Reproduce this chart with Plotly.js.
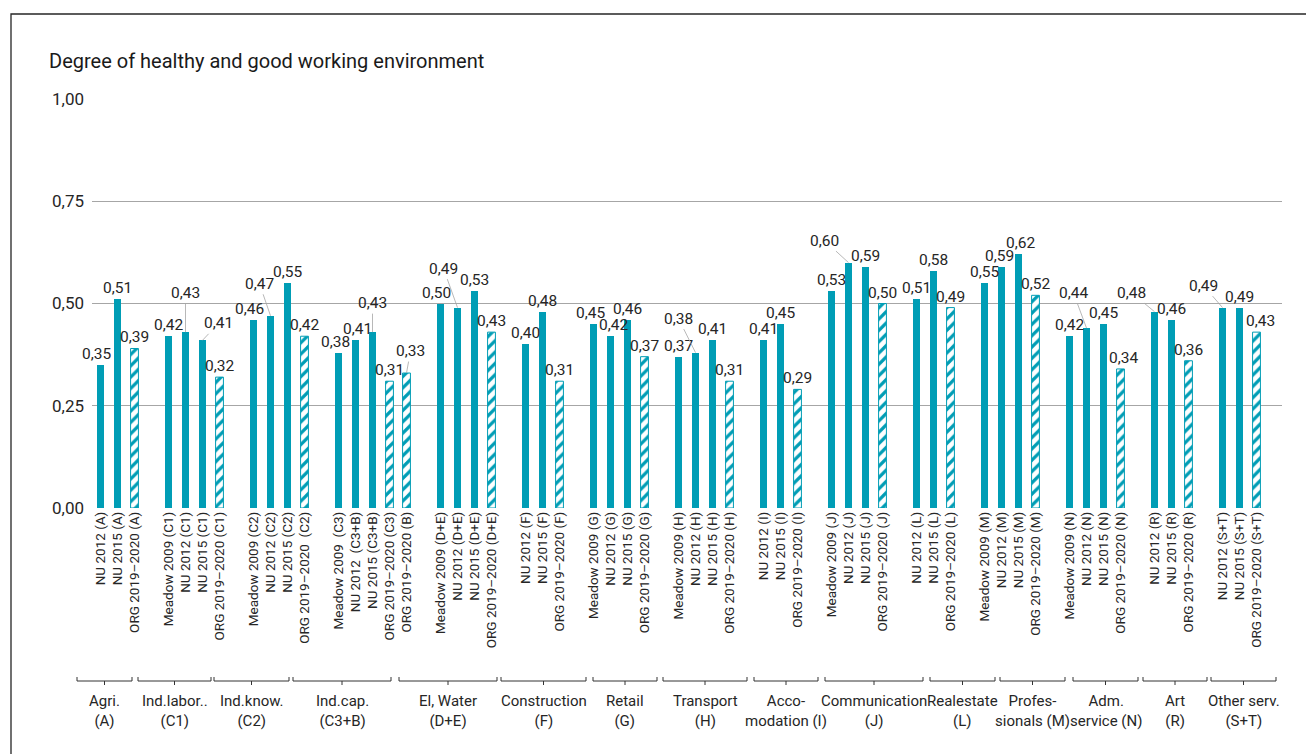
<!DOCTYPE html>
<html>
<head>
<meta charset="utf-8">
<script src="https://cdn.plot.ly/plotly-3.0.1.min.js"></script>
<style>html,body{margin:0;padding:0;background:#fff;}#chart{width:1306px;height:754px;}</style>
</head>
<body>
<div id="chart"></div>
<script>
// ---- Data ----
const groupLabels = ['Agri.<br>(A)', 'Ind.labor..<br>(C1)', 'Ind.know.<br>(C2)', 'Ind.cap.<br>(C3+B)',
  'El, Water<br>(D+E)', 'Construction<br>(F)', 'Retail<br>(G)', 'Transport<br>(H)', 'Acco-<br>modation (I)',
  'Communication<br>(J)', 'Realestate<br>(L)', 'Profes-<br>sionals (M)', 'Adm.<br>service (N)', 'Art<br>(R)',
  'Other serv.<br>(S+T)'];
const groupSizes = [3, 4, 4, 5, 4, 3, 4, 4, 3, 4, 3, 4, 4, 3, 3];
const barLabels = [
  'NU 2012 (A)', 'NU 2015 (A)', 'ORG 2019–2020 (A)',
  'Meadow 2009 (C1)', 'NU 2012 (C1)', 'NU 2015 (C1)', 'ORG 2019–2020 (C1)',
  'Meadow 2009 (C2)', 'NU 2012 (C2)', 'NU 2015 (C2)', 'ORG 2019–2020\u00a0 (C2)',
  'Meadow 2009\u00a0 (C3)', 'NU 2012\u00a0 (C3+B)', 'NU 2015 (C3+B)', 'ORG 2019–2020 (C3)', 'ORG 2019–2020 (B)',
  'Meadow 2009 (D+E)', 'NU 2012 (D+E)', 'NU 2015 (D+E)', 'ORG 2019–2020 (D+E)',
  'NU 2012 (F)', 'NU 2015 (F)', 'ORG 2019–2020 (F)',
  'Meadow 2009 (G)', 'NU 2012 (G)', 'NU 2015 (G)', 'ORG 2019–2020 (G)',
  'Meadow 2009 (H)', 'NU 2012 (H)', 'NU 2015 (H)', 'ORG 2019–2020 (H)',
  'NU 2012 (I)', 'NU 2015 (I)', 'ORG 2019–2020 (I)',
  'Meadow 2009 (J)', 'NU 2012 (J)', 'NU 2015 (J)', 'ORG 2019–2020 (J)',
  'NU 2012 (L)', 'NU 2015 (L)', 'ORG 2019–2020 (L)',
  'Meadow 2009 (M)', 'NU 2012 (M)', 'NU 2015 (M)', 'ORG 2019–2020 (M)',
  'Meadow 2009 (N)', 'NU 2012 (N)', 'NU 2015 (N)', 'ORG 2019–2020 (N)',
  'NU 2012 (R)', 'NU 2015 (R)', 'ORG 2019–2020 (R)',
  'NU 2012 (S+T)', 'NU 2015 (S+T)', 'ORG 2019–2020 (S+T)'
];
const barValues = [
  0.35, 0.51, 0.39,
  0.42, 0.43, 0.41, 0.32,
  0.46, 0.47, 0.55, 0.42,
  0.38, 0.41, 0.43, 0.31, 0.33,
  0.50, 0.49, 0.53, 0.43,
  0.40, 0.48, 0.31,
  0.45, 0.42, 0.46, 0.37,
  0.37, 0.38, 0.41, 0.31,
  0.41, 0.45, 0.29,
  0.53, 0.60, 0.59, 0.50,
  0.51, 0.58, 0.49,
  0.55, 0.59, 0.62, 0.52,
  0.42, 0.44, 0.45, 0.34,
  0.48, 0.46, 0.36,
  0.49, 0.49, 0.43
];
const yTicks = [0, 0.25, 0.5, 0.75, 1];
const chartTitle = 'Degree of healthy and good working environment';

// ---- Styling / layout constants ----
const TEAL = '#009db5';
const TEXT = '#262626';
const FONT = 'Roboto, "Liberation Sans", Arial, sans-serif';
const PLOT = {l: 92, r: 1282, t: 99, b: 508};
const px2x = p => (p - PLOT.l) / (PLOT.r - PLOT.l);
const py2y = p => (PLOT.b - p) / (PLOT.b - PLOT.t);
// label offsets with leader lines (bar index -> [dx, dy] px)
const leaderOffsets = {4: [0, -39], 5: [16, -17], 8: [-11, -32], 13: [0, -29], 15: [4, -22],
  17: [-14, -39], 28: [-17, -34], 35: [-24, -22], 46: [-13, -35], 49: [-23, -19], 52: [-19, -22]};
const labelXShift = {0: -4, 7: -4, 11: -3, 12: 2, 16: -4, 23: -3, 24: 3, 42: -2, 43: 2, 48: 3, 54: 4};
// bracket extents under the group labels (px)
const bracketPx = [[77,132],[138,211],[214,289],[293,391],[399,497],[501,586],[593,657],
  [663,747],[754,818],[825,923],[930,995],[1000,1065],[1073,1138],[1143,1207],[1211,1276]];

// ---- Slot positions (one empty slot after every group) ----
const xs = [];
let slot = 0;
groupSizes.forEach(n => { for (let k = 0; k < n; k++) xs.push(slot++); slot++; });
const nSlots = slot - 1;

const isOrg = barLabels.map(l => l.startsWith('ORG'));
const solidIdx = barLabels.map((_, i) => i).filter(i => !isOrg[i]);
const orgIdx = barLabels.map((_, i) => i).filter(i => isOrg[i]);

const traces = [
  {type: 'bar', x: solidIdx.map(i => xs[i]), y: solidIdx.map(i => barValues[i]), width: 0.42,
   marker: {color: TEAL, line: {width: 0}}, hoverinfo: 'skip', showlegend: false},
  {type: 'bar', x: orgIdx.map(i => xs[i]), y: orgIdx.map(i => barValues[i]), width: 0.46,
   marker: {color: '#ffffff', line: {color: TEAL, width: 1},
            pattern: {shape: '/', fgcolor: TEAL, bgcolor: '#ffffff', size: 8, solidity: 0.4}},
   hoverinfo: 'skip', showlegend: false}
];

const fmt = v => v.toFixed(2).replace('.', ',');
const annotations = [];
barValues.forEach((v, i) => {
  const a = {x: xs[i], y: v, xref: 'x', yref: 'y', text: fmt(v),
             font: {family: FONT, size: 15.5, color: TEXT}};
  if (leaderOffsets[i]) {
    Object.assign(a, {showarrow: true, arrowhead: 0, arrowwidth: 0.8, arrowcolor: '#a6a6a6',
      ax: leaderOffsets[i][0], ay: leaderOffsets[i][1], standoff: 0, startstandoff: 0});
  } else {
    Object.assign(a, {showarrow: false, yanchor: 'bottom', yshift: 0, xshift: labelXShift[i] || 0});
  }
  annotations.push(a);
});

const shapes = [];
bracketPx.forEach((b, g) => {
  const x0 = px2x(b[0]), x1 = px2x(b[1]), xm = (x0 + x1) / 2;
  const yl = py2y(681), ye = py2y(677), yc = py2y(685);
  shapes.push({type: 'path', xref: 'paper', yref: 'paper',
    path: `M${x0},${ye} L${x0},${yl} L${x1},${yl} L${x1},${ye} M${xm},${yl} L${xm},${yc}`,
    line: {color: '#333333', width: 1}});
  annotations.push({xref: 'paper', yref: 'paper', x: xm, y: py2y(690), yanchor: 'top', xanchor: 'center',
    showarrow: false, text: groupLabels[g], align: 'center',
    font: {family: FONT, size: 15, color: TEXT}});
});
// outer chart border
shapes.push({type: 'rect', xref: 'paper', yref: 'paper', x0: px2x(11), x1: px2x(1330),
  y0: py2y(780), y1: py2y(14), line: {color: '#262626', width: 1.3}, fillcolor: 'rgba(0,0,0,0)'});

const layout = {
  width: 1306, height: 754,
  margin: {l: PLOT.l, r: 1306 - PLOT.r, t: PLOT.t, b: 754 - PLOT.b, pad: 0},
  paper_bgcolor: '#ffffff', plot_bgcolor: '#ffffff',
  separators: ',.',
  font: {family: FONT, color: TEXT},
  title: {text: chartTitle, font: {family: FONT, size: 20, color: '#1a1a1a'},
          x: 49 / 1306, xref: 'container', xanchor: 'left', y: 1 - 61 / 754, yref: 'container', yanchor: 'middle'},
  bargap: 0,
  xaxis: {range: [-0.5, nSlots + 0.5], tickvals: xs, ticktext: barLabels, tickangle: -90,
          tickfont: {family: FONT, size: 13.5, color: TEXT}, showgrid: false, zeroline: false,
          showline: false, ticks: '', fixedrange: true, automargin: false},
  yaxis: {range: [0, 1], tickvals: yTicks, tickformat: '.2f', showgrid: true, gridcolor: '#a6a6a6',
          gridwidth: 1, zeroline: false, showline: false, ticks: '', ticklabelstandoff: 7,
          tickfont: {family: FONT, size: 17, color: TEXT}, fixedrange: true, automargin: false},
  annotations: annotations,
  shapes: shapes
};

Plotly.newPlot('chart', traces, layout, {displayModeBar: false, staticPlot: true});
</script>
</body>
</html>
